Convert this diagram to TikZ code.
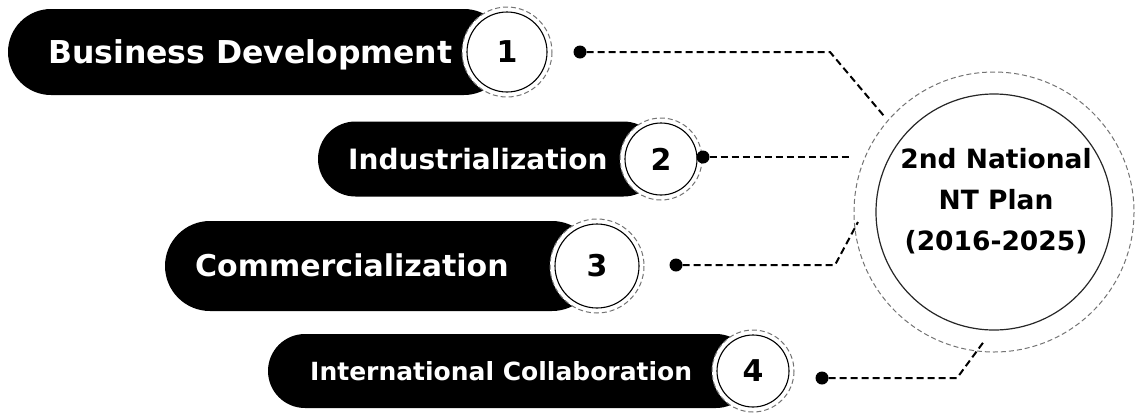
\documentclass[tikz,border=0pt]{standalone}
\usepackage{fontspec}
\setmainfont{DejaVu Sans}
\begin{document}
\begin{tikzpicture}[
  x=1pt,
  y=-1pt,
  bar/.style={fill=black},
  barlabel/.style={text=white, inner sep=0pt, anchor=base west},
  numdisc/.style={circle, fill=white, draw=black, line width=1.1pt, inner sep=0pt},
  ring/.style={draw=black!55, line width=1pt, dash pattern=on 5pt off 3pt},
  link/.style={draw=black, line width=2pt, dash pattern=on 7pt off 4pt},
  dot/.style={circle, fill=black, inner sep=0pt, minimum size=13pt},
  plantext/.style={align=center, inner sep=0pt,
                   font=\bfseries\fontsize{26.5}{41}\selectfont}
]
\useasboundingbox (0,0) rectangle (1137,416);

% bars with their numbered discs
\foreach [count=\i] \xl/\xt/\xc/\yc/\h/\r/\fs/\t in
                  {8/48/507/52/86/40/31.5/Business Development,
                   318/348/661/159/75/36/28/Industrialization,
                   165/195/597/266/90/42/30/Commercialization,
                   268/310/753/371/74/36/25/International Collaboration}
  {
   \fill [bar, rounded corners=\h/2] (\xl,\yc-\h/2) rectangle (\xc,\yc+\h/2);
   \node [barlabel, font=\bfseries\fontsize{\fs}{\fs}\selectfont,
          name=lbl-\i] at (\xt,{\yc+0.36*\fs}) {\t};
   \fill [white] (\xc,\yc) circle (\r+5);
   \draw [ring] (\xc,\yc) circle (\r+5);
   \node [numdisc, minimum size=2*\r,
          font=\bfseries\fontsize{30}{30}\selectfont,
          name=num-\i] at (\xc,\yc) {\i};
  }

% the plan
\coordinate (hub) at (994,212);
\draw [black!85, line width=1.2pt] (hub) circle (118);
\draw [ring] (hub) circle (140);
\node [plantext] (plan) at (996,201) {2nd National\\NT Plan\\(2016-2025)};

% connectors
\foreach \i/\xd/\yd in {1/580/52, 2/703/157, 3/676/265, 4/822/378}
  \node [dot] (dot-\i) at (\xd,\yd) {};

\coordinate (bend-1) at (830,52);
\coordinate (end-1) at (884,116);
\coordinate (end-2) at (852,157);
\coordinate (bend-3) at (835,265);
\coordinate (end-3) at (858,222);
\coordinate (bend-4) at (957,378);
\coordinate (end-4) at (985,340);

\draw [link] (dot-1) -- (bend-1) -- (end-1);
\draw [link] (dot-2) -- (end-2);
\draw [link] (dot-3) -- (bend-3) -- (end-3);
\draw [link] (dot-4) -- (bend-4) -- (end-4);

\end{tikzpicture}
\end{document}
